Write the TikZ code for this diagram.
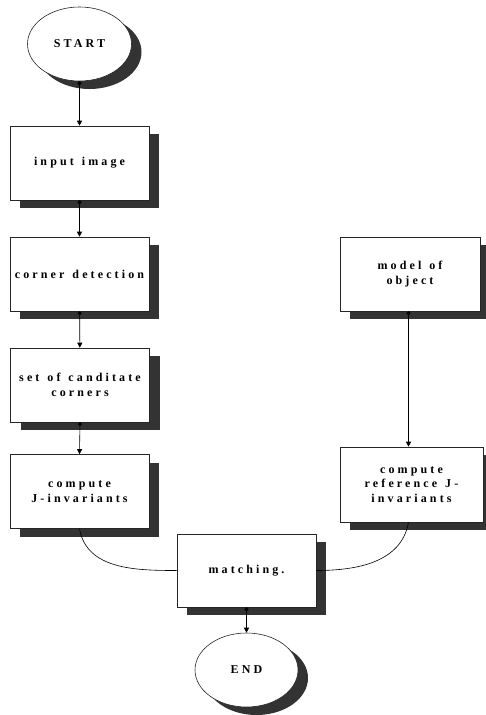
\documentclass[tikz,border=0pt]{standalone}
\usepackage{fontspec}
\setmainfont{Liberation Serif}
\newfontfamily\flowfont{Liberation Serif}[LetterSpace=26, WordSpace=1.3]
\usepackage{tikz}
\usetikzlibrary{shapes.geometric,arrows.meta,shadows}

\begin{document}
\begin{tikzpicture}[
    x=1pt,
    y=-1pt,
    flowshadow/.style={
        drop shadow={
            shadow xshift=10pt,
            shadow yshift=-8pt,
            fill=black!80,
            opacity=1
        }
    },
    process/.style={
        rectangle,
        draw=black!85,
        line width=0.6pt,
        fill=white,
        align=center,
        inner sep=2pt,
        minimum width=139pt,
        minimum height=74pt,
        font=\flowfont\bfseries\fontsize{12}{14.5}\selectfont,
        flowshadow
    },
    terminal/.style={
        ellipse,
        draw=black!85,
        line width=0.6pt,
        fill=white,
        inner sep=0pt,
        minimum width=104pt,
        minimum height=74pt,
        font=\flowfont\bfseries\fontsize{12}{14.5}\selectfont,
        flowshadow
    },
    arrow/.style={
        line width=0.6pt,
        {Circle[length=4pt]}-{Triangle[length=5pt,width=5pt]}
    },
    link/.style={
        line width=0.6pt
    }
]
\useasboundingbox (0,0) rectangle (485,715);

% Start
\node[terminal] (start) at (79.5, 44) {START};

% Left column
\node[process] (input) at (79.5, 163) {input image};
\node[process] (corner) at (79.5, 274) {corner detection};
\node[process] (cand) at (80, 385) {set of canditate\\corners};
\node[process] (jinv) at (79.5, 491.5) {compute\\J-invariants};

% Right column
\node[process, minimum width=140pt] (model) at (410, 274) {model of\\object};
\node[process, minimum width=143pt, minimum height=75pt] (refinv) at (411.5, 484.5) {compute\\reference J-\\invariants};

% Matching and end
\node[process, minimum height=73pt] (match) at (246.5, 570.5) {matching.};
\node[terminal, minimum width=103pt] (stop) at (246.5, 670) {END};

% Main flow
\draw[arrow] (start.south) -- (input.north);
\draw[arrow] (input) -- (corner);
\draw[arrow] (corner) -- (cand);
\draw[arrow] (cand.south) -- (jinv.north);
\draw[arrow] ([xshift=-1.5pt]model.south) -- ([xshift=-3pt]refinv.north);
\draw[arrow] (match) -- (stop);

% Joining curves
\draw[link] (jinv.south) to[out=-80, in=180] (match.west);
\draw[link] ([xshift=-3pt]refinv.south) to[out=-100, in=0] (match.east);

\end{tikzpicture}
\end{document}
